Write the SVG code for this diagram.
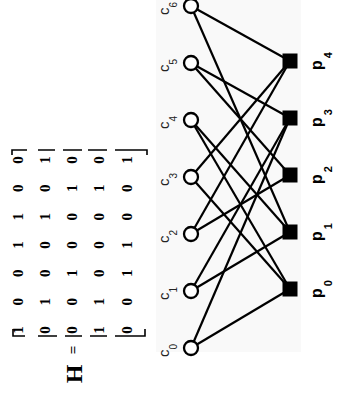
<svg xmlns="http://www.w3.org/2000/svg" width="338" height="398" viewBox="0 0 338 398">
<style>
.cn{fill:#fff;stroke:#000;stroke-width:2.3}
.pn{fill:#000}
.e{stroke:#000;stroke-width:2.2;fill:none}
.cl{font-family:"Liberation Sans",Arial,sans-serif;font-size:15px;fill:#222}
.pl{font-family:"Liberation Sans",Arial,sans-serif;font-size:16px;font-weight:bold;fill:#000}
.m{font-family:"Liberation Serif","Times New Roman",serif;font-size:15px;font-weight:bold;fill:#000;text-anchor:middle}
.br{stroke:#000;stroke-width:1.6;fill:none}
</style>
<rect x="156" y="0" width="145" height="352" fill="#f9f9f9"/>
<g id="matrix">
<text class="m" style="font-size:24px" transform="translate(82,374) rotate(-90)">H</text>
<text class="m" transform="translate(78,350) rotate(-90)">=</text>
<path class="br" d="M12,155V150H27M38,150H55M63,150H82M88,150H107M115,150H147V155"/>
<path class="br" d="M13,329V336H25M38,336H57M65,336H82M90,336H107M115,336H145V329"/>
<g id="row0">
<text class="m" transform="translate(23,330) rotate(-90)">1</text>
<text class="m" transform="translate(23,301.7) rotate(-90)">0</text>
<text class="m" transform="translate(23,273.3) rotate(-90)">0</text>
<text class="m" transform="translate(23,245) rotate(-90)">1</text>
<text class="m" transform="translate(23,216.7) rotate(-90)">1</text>
<text class="m" transform="translate(23,188.3) rotate(-90)">0</text>
<text class="m" transform="translate(23,160) rotate(-90)">0</text>
</g>
<g id="row1">
<text class="m" transform="translate(50,330) rotate(-90)">0</text>
<text class="m" transform="translate(50,301.7) rotate(-90)">1</text>
<text class="m" transform="translate(50,273.3) rotate(-90)">0</text>
<text class="m" transform="translate(50,245) rotate(-90)">0</text>
<text class="m" transform="translate(50,216.7) rotate(-90)">1</text>
<text class="m" transform="translate(50,188.3) rotate(-90)">0</text>
<text class="m" transform="translate(50,160) rotate(-90)">1</text>
</g>
<g id="row2">
<text class="m" transform="translate(77,330) rotate(-90)">0</text>
<text class="m" transform="translate(77,301.7) rotate(-90)">0</text>
<text class="m" transform="translate(77,273.3) rotate(-90)">1</text>
<text class="m" transform="translate(77,245) rotate(-90)">0</text>
<text class="m" transform="translate(77,216.7) rotate(-90)">0</text>
<text class="m" transform="translate(77,188.3) rotate(-90)">1</text>
<text class="m" transform="translate(77,160) rotate(-90)">0</text>
</g>
<g id="row3">
<text class="m" transform="translate(104,330) rotate(-90)">1</text>
<text class="m" transform="translate(104,301.7) rotate(-90)">1</text>
<text class="m" transform="translate(104,273.3) rotate(-90)">0</text>
<text class="m" transform="translate(104,245) rotate(-90)">0</text>
<text class="m" transform="translate(104,216.7) rotate(-90)">0</text>
<text class="m" transform="translate(104,188.3) rotate(-90)">1</text>
<text class="m" transform="translate(104,160) rotate(-90)">0</text>
</g>
<g id="row4">
<text class="m" transform="translate(132,330) rotate(-90)">0</text>
<text class="m" transform="translate(132,301.7) rotate(-90)">0</text>
<text class="m" transform="translate(132,273.3) rotate(-90)">1</text>
<text class="m" transform="translate(132,245) rotate(-90)">1</text>
<text class="m" transform="translate(132,216.7) rotate(-90)">0</text>
<text class="m" transform="translate(132,188.3) rotate(-90)">0</text>
<text class="m" transform="translate(132,160) rotate(-90)">1</text>
</g>
</g>
<g id="connectors">
<line class="e" x1="191" y1="348" x2="290" y2="289"/>
<line class="e" x1="191" y1="177" x2="290" y2="289"/>
<line class="e" x1="191" y1="120" x2="290" y2="289"/>
<line class="e" x1="191" y1="291" x2="290" y2="232"/>
<line class="e" x1="191" y1="120" x2="290" y2="232"/>
<line class="e" x1="191" y1="6" x2="290" y2="232"/>
<line class="e" x1="191" y1="234" x2="290" y2="175"/>
<line class="e" x1="191" y1="63" x2="290" y2="175"/>
<line class="e" x1="191" y1="348" x2="290" y2="118"/>
<line class="e" x1="191" y1="291" x2="290" y2="118"/>
<line class="e" x1="191" y1="63" x2="290" y2="118"/>
<line class="e" x1="191" y1="234" x2="290" y2="61"/>
<line class="e" x1="191" y1="177" x2="290" y2="61"/>
<line class="e" x1="191" y1="6" x2="290" y2="61"/>
</g>
<g id="c0"><circle class="cn" cx="191" cy="348" r="7"/><text class="cl" transform="translate(169,357) rotate(-90)">c<tspan dy="8" font-size="10">0</tspan></text></g>
<g id="c1"><circle class="cn" cx="191" cy="291" r="7"/><text class="cl" transform="translate(169,300) rotate(-90)">c<tspan dy="8" font-size="10">1</tspan></text></g>
<g id="c2"><circle class="cn" cx="191" cy="234" r="7"/><text class="cl" transform="translate(169,243) rotate(-90)">c<tspan dy="8" font-size="10">2</tspan></text></g>
<g id="c3"><circle class="cn" cx="191" cy="177" r="7"/><text class="cl" transform="translate(169,186) rotate(-90)">c<tspan dy="8" font-size="10">3</tspan></text></g>
<g id="c4"><circle class="cn" cx="191" cy="120" r="7"/><text class="cl" transform="translate(169,129) rotate(-90)">c<tspan dy="8" font-size="10">4</tspan></text></g>
<g id="c5"><circle class="cn" cx="191" cy="63" r="7"/><text class="cl" transform="translate(169,72) rotate(-90)">c<tspan dy="8" font-size="10">5</tspan></text></g>
<g id="c6"><circle class="cn" cx="191" cy="6" r="7"/><text class="cl" transform="translate(169,15) rotate(-90)">c<tspan dy="8" font-size="10">6</tspan></text></g>
<g id="p0"><rect class="pn" x="282.5" y="281.5" width="15" height="15"/><text class="pl" transform="translate(322,298) rotate(-90)">p<tspan dx="2" dy="10" font-size="11">0</tspan></text></g>
<g id="p1"><rect class="pn" x="282.5" y="224.5" width="15" height="15"/><text class="pl" transform="translate(322,241) rotate(-90)">p<tspan dx="2" dy="10" font-size="11">1</tspan></text></g>
<g id="p2"><rect class="pn" x="282.5" y="167.5" width="15" height="15"/><text class="pl" transform="translate(322,184) rotate(-90)">p<tspan dx="2" dy="10" font-size="11">2</tspan></text></g>
<g id="p3"><rect class="pn" x="282.5" y="110.5" width="15" height="15"/><text class="pl" transform="translate(322,127) rotate(-90)">p<tspan dx="2" dy="10" font-size="11">3</tspan></text></g>
<g id="p4"><rect class="pn" x="282.5" y="53.5" width="15" height="15"/><text class="pl" transform="translate(322,70) rotate(-90)">p<tspan dx="2" dy="10" font-size="11">4</tspan></text></g>
</svg>
